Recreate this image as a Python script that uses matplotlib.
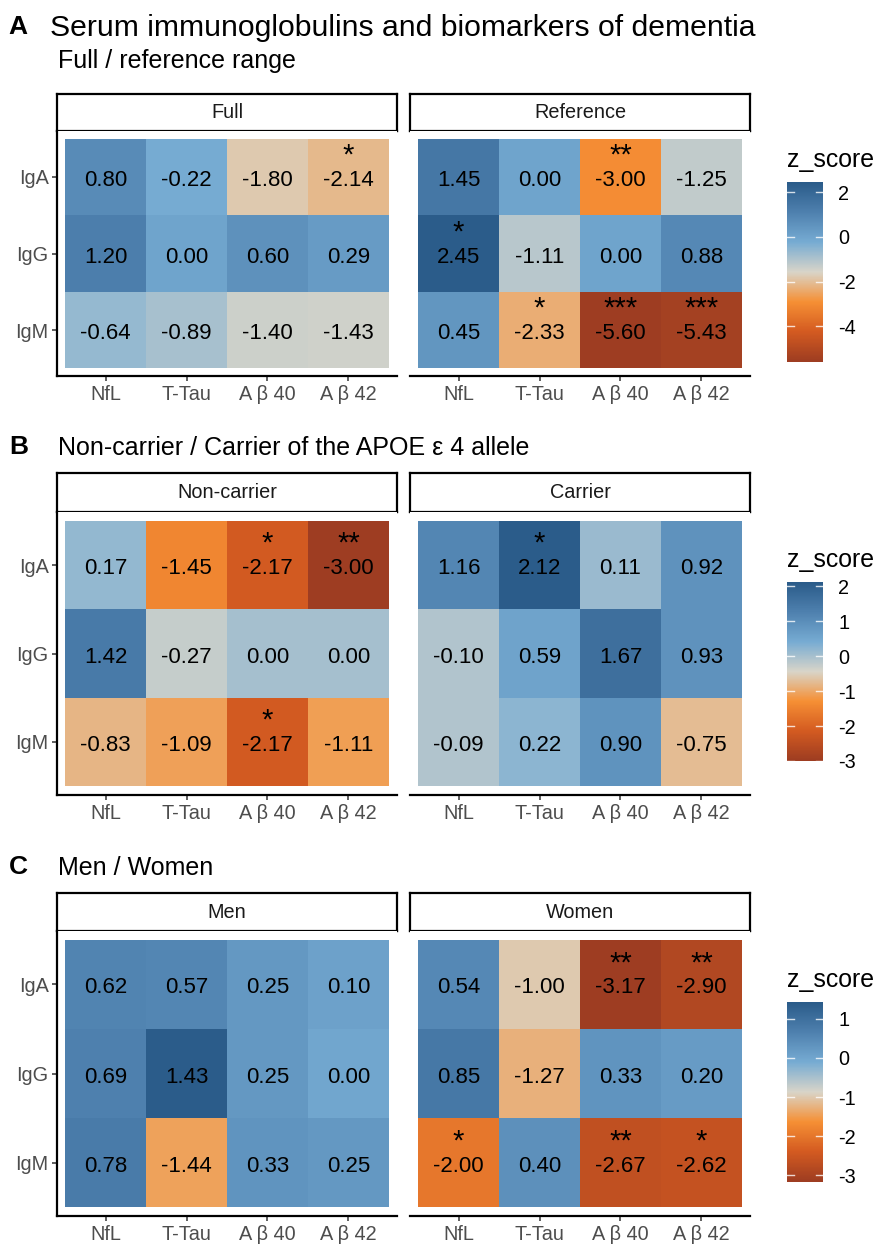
import numpy as np
import matplotlib
matplotlib.use("Agg")
import matplotlib.pyplot as plt
from matplotlib.colors import LinearSegmentedColormap, Normalize

plt.rcParams['font.family'] = ['Liberation Sans', 'DejaVu Sans']

# data
rows = ["IgA", "IgG", "IgM"]
cols = ["NfL", "T-Tau", "A \u03b2 40", "A \u03b2 42"]

full_z = [[0.80, -0.22, -1.80, -2.14],
          [1.20, 0.00, 0.60, 0.29],
          [-0.64, -0.89, -1.40, -1.43]]
full_sig = [["", "", "", "*"],
            ["", "", "", ""],
            ["", "", "", ""]]
ref_z = [[1.45, 0.00, -3.00, -1.25],
         [2.45, -1.11, 0.00, 0.88],
         [0.45, -2.33, -5.60, -5.43]]
ref_sig = [["", "", "**", ""],
           ["*", "", "", ""],
           ["", "*", "***", "***"]]

noncarrier_z = [[0.17, -1.45, -2.17, -3.00],
                [1.42, -0.27, 0.00, 0.00],
                [-0.83, -1.09, -2.17, -1.11]]
noncarrier_sig = [["", "", "*", "**"],
                  ["", "", "", ""],
                  ["", "", "*", ""]]
carrier_z = [[1.16, 2.12, 0.11, 0.92],
             [-0.10, 0.59, 1.67, 0.93],
             [-0.09, 0.22, 0.90, -0.75]]
carrier_sig = [["", "*", "", ""],
               ["", "", "", ""],
               ["", "", "", ""]]

men_z = [[0.62, 0.57, 0.25, 0.10],
         [0.69, 1.43, 0.25, 0.00],
         [0.78, -1.44, 0.33, 0.25]]
men_sig = [["", "", "", ""],
           ["", "", "", ""],
           ["", "", "", ""]]
women_z = [[0.54, -1.00, -3.17, -2.90],
           [0.85, -1.27, 0.33, 0.20],
           [-2.00, 0.40, -2.67, -2.62]]
women_sig = [["", "", "**", "**"],
             ["", "", "", ""],
             ["*", "", "**", "*"]]

sections = [
    dict(tag="A", title="Full / reference range",
         facets=[("Full", full_z, full_sig), ("Reference", ref_z, ref_sig)],
         ticks=[2, 0, -2, -4],
         strip=(94, 131), panel=(131, 376), bar=(182, 362)),
    dict(tag="B", title="Non-carrier / Carrier of the APOE \u03b5 4 allele",
         facets=[("Non-carrier", noncarrier_z, noncarrier_sig), ("Carrier", carrier_z, carrier_sig)],
         ticks=[2, 1, 0, -1, -2, -3],
         strip=(473, 512), panel=(512, 795), bar=(582, 761)),
    dict(tag="C", title="Men / Women",
         facets=[("Men", men_z, men_sig), ("Women", women_z, women_sig)],
         ticks=[1, 0, -1, -2, -3],
         strip=(893, 931), panel=(931, 1216), bar=(1002, 1182)),
]

cmap = LinearSegmentedColormap.from_list(
    "orange_blue", ["#9E3D22", "#D45B21", "#F69035", "#D9D5C9", "#77ACD3", "#4F81AF", "#2B5C8A"])

W, H = 877, 1244
fig = plt.figure(figsize=(W / 100, H / 100), dpi=100)


def px_axes(x0, x1, y0, y1):
    return fig.add_axes([x0 / W, 1 - y1 / H, (x1 - x0) / W, (y1 - y0) / H])


def fig_text(x, y, s, **kw):
    fig.text(x / W, 1 - y / H, s, **kw)


# main title
fig_text(8, 34, "A", fontsize=19, fontweight="bold", va="baseline")
fig_text(50, 36, "Serum immunoglobulins and biomarkers of dementia", fontsize=21.7, va="baseline")

facet_x = [(57, 397), (410, 750)]
title_base = {"A": 68, "B": 455, "C": 875}

for sec in sections:
    if sec["tag"] == "A":
        fig_text(58, title_base["A"], sec["title"], fontsize=18, va="baseline")
    else:
        fig_text(9, title_base[sec["tag"]] - 1, sec["tag"], fontsize=19, fontweight="bold", va="baseline")
        fig_text(58, title_base[sec["tag"]], sec["title"], fontsize=18, va="baseline")

    all_vals = np.concatenate([np.array(f[1]).ravel() for f in sec["facets"]])
    norm = Normalize(vmin=all_vals.min(), vmax=all_vals.max())

    for i, (name, z, sig) in enumerate(sec["facets"]):
        x0, x1 = facet_x[i]
        # strip
        sax = px_axes(x0, x1, sec["strip"][0], sec["strip"][1])
        sax.set_xticks([]); sax.set_yticks([])
        for sp in sax.spines.values():
            sp.set_linewidth(1.6)
            sp.set_color("black")
        sax.text(0.5, 0.5, name, ha="center", va="center", fontsize=14.3,
                 color="#1A1A1A", transform=sax.transAxes)

        ax = px_axes(x0, x1, sec["panel"][0], sec["panel"][1])
        z = np.array(z)
        xe = np.arange(len(cols) + 1) + 0.5
        ye = np.arange(len(rows) + 1) + 0.5
        ax.pcolormesh(xe, ye, z, cmap=cmap, norm=norm)
        ax.set_xlim(0.4, len(cols) + 0.6)
        ax.set_ylim(len(rows) + 0.6, 0.4)
        for r in range(len(rows)):
            for c in range(len(cols)):
                ax.annotate(f"{z[r, c]:.2f}", (c + 1, r + 1), xytext=(0, -6.5),
                            textcoords="offset points", ha="center", va="baseline",
                            fontsize=16, color="black")
                if sig[r][c]:
                    ax.annotate(sig[r][c], (c + 1, r + 1), xytext=(0, 9.5),
                                textcoords="offset points", ha="center", va="baseline",
                                fontsize=21, color="black")
        ax.spines["top"].set_visible(False)
        ax.spines["right"].set_visible(False)
        ax.spines["bottom"].set_linewidth(1.6)
        ax.set_xticks(range(1, len(cols) + 1))
        ax.set_xticklabels(cols)
        ax.tick_params(axis="x", length=3.6, width=1.1, color="#333333",
                       labelsize=14.3, labelcolor="#4D4D4D", pad=3)
        if i == 0:
            ax.spines["left"].set_linewidth(1.6)
            ax.set_yticks(range(1, len(rows) + 1))
            ax.set_yticklabels(rows)
            ax.tick_params(axis="y", length=3.6, width=1.1, color="#333333",
                           labelsize=14.3, labelcolor="#4D4D4D", pad=2.5)
        else:
            ax.spines["left"].set_visible(False)
            ax.set_yticks([])

    # colour bar
    b0, b1 = sec["bar"]
    cax = px_axes(787, 823, b0, b1)
    grad = np.linspace(norm.vmin, norm.vmax, 300).reshape(-1, 1)
    cax.imshow(grad, cmap=cmap, norm=norm, aspect="auto", origin="lower",
               extent=(0, 1, norm.vmin, norm.vmax))
    cax.set_xlim(0, 1)
    cax.set_ylim(norm.vmin, norm.vmax)
    for t in sec["ticks"]:
        cax.plot([0, 0.2], [t, t], color="white", lw=1.0, alpha=0.8)
        cax.plot([0.8, 1], [t, t], color="white", lw=1.0, alpha=0.8)
    cax.set_xticks([])
    cax.yaxis.tick_right()
    cax.set_yticks(sec["ticks"])
    cax.set_yticklabels([str(t) for t in sec["ticks"]])
    cax.tick_params(axis="y", length=0, labelsize=14.3, pad=11, labelcolor="black")
    for sp in cax.spines.values():
        sp.set_visible(False)
    fig_text(787, b0 - 15, "z_score", fontsize=17.9, va="baseline")

fig.savefig("out.png", dpi=100)
